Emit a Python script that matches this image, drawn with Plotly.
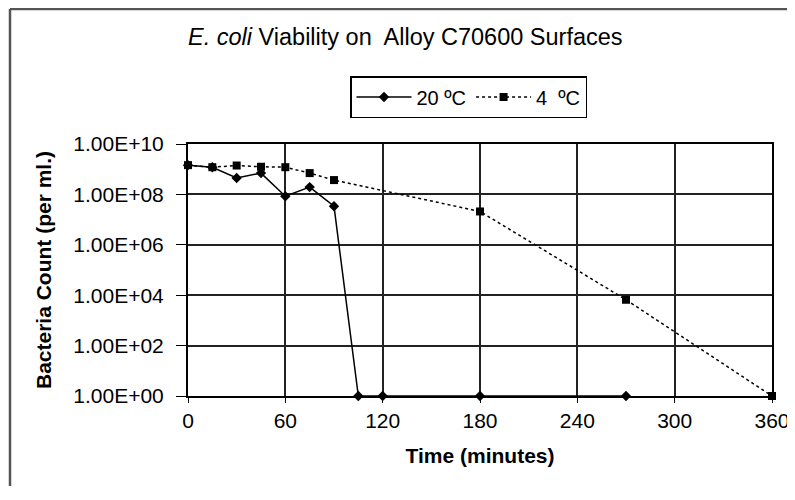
import plotly.graph_objects as go

time_20 = [0, 15, 30, 45, 60, 75, 90, 105, 120, 180, 270]
count_20 = [1.45e9, 1.2e9, 4.5e8, 7.0e8, 8.5e7, 1.95e8, 3.4e7, 1, 1, 1, 1]
time_4 = [0, 15, 30, 45, 60, 75, 90, 180, 270, 360]
count_4 = [1.45e9, 1.2e9, 1.4e9, 1.25e9, 1.2e9, 7.0e8, 3.7e8, 2.1e7, 6.6e3, 1]
y_tickvals = [1, 1e2, 1e4, 1e6, 1e8, 1e10]
y_ticktext = ["1.00E+00", "1.00E+02", "1.00E+04", "1.00E+06", "1.00E+08", "1.00E+10"]
x_tickvals = [0, 60, 120, 180, 240, 300, 360]

FONT = "Liberation Sans, Arial, sans-serif"

# The page body has an 8px margin, so the figure starts at (8, 8) of the window.
OFF = 8
W, H = 795 - OFF, 478
# plot area in window pixels: x 188..772, y 144..396
PL, PR, PT, PB = 188 - OFF, 772 - OFF, 144 - OFF, 396 - OFF
PW, PH = PR - PL, PB - PT


def px(x):
    return (x - OFF - PL) / PW


def py(y):
    return (PB - (y - OFF)) / PH


fig = go.Figure()
fig.add_trace(go.Scatter(
    x=time_20, y=count_20, name="20 ºC", mode="lines+markers",
    line=dict(color="black", width=1.5),
    marker=dict(symbol="diamond", size=8, color="black"),
    cliponaxis=False,
))
fig.add_trace(go.Scatter(
    x=time_4, y=count_4, name="4\u00a0\u00a0ºC", mode="lines+markers",
    line=dict(color="black", width=1.5, dash="dot"),
    marker=dict(symbol="square", size=8, color="black"),
    cliponaxis=False,
))

fig.update_layout(
    width=W, height=H,
    margin=dict(l=PL, r=W - PR, t=PT, b=H - PB, autoexpand=False),
    paper_bgcolor="white", plot_bgcolor="white",
    font=dict(family=FONT, size=21, color="black"),
    showlegend=True,
    legend=dict(
        orientation="h", x=px(350), y=py(76), xanchor="left", yanchor="top",
        bordercolor="black", borderwidth=1.5, bgcolor="white",
        font=dict(size=20, family=FONT),
        itemwidth=55, tracegroupgap=0,
    ),
    shapes=[
        dict(type="line", xref="paper", yref="paper", x0=px(10), x1=px(800), y0=py(9), y1=py(9),
             line=dict(color="#555", width=2.5)),
        dict(type="line", xref="paper", yref="paper", x0=px(10), x1=px(10), y0=py(9), y1=py(499),
             line=dict(color="#555", width=2.5)),
    ],
    annotations=[
        dict(text="<i>E. coli</i> Viability on  Alloy C70600 Surfaces",
             xref="paper", yref="paper", x=px(405), y=py(37),
             xanchor="center", yanchor="middle", showarrow=False,
             font=dict(size=23.5, family=FONT)),
    ],
)

fig.update_xaxes(
    range=[0, 360], tickvals=x_tickvals, showgrid=True,
    gridcolor="#222", gridwidth=1.5,
    showline=True, linecolor="black", linewidth=2, mirror=True,
    ticks="outside", ticklen=5, tickcolor="black",
    zeroline=False, tickfont=dict(size=21),
    title=dict(text="<b>Time (minutes)</b>", font=dict(size=21, family=FONT), standoff=17),
)
fig.update_yaxes(
    type="log", range=[0, 10], tickvals=y_tickvals, ticktext=y_ticktext,
    showgrid=True, gridcolor="#222", gridwidth=1.5,
    showline=True, linecolor="black", linewidth=2, mirror=True,
    ticks="outside", ticklen=10, tickcolor="black", ticklabelstandoff=8,
    zeroline=False, tickfont=dict(size=21),
    title=dict(text="<b>Bacteria Count (per ml.)</b>", font=dict(size=21, family=FONT), standoff=16),
)

fig.write_html("out.html")
